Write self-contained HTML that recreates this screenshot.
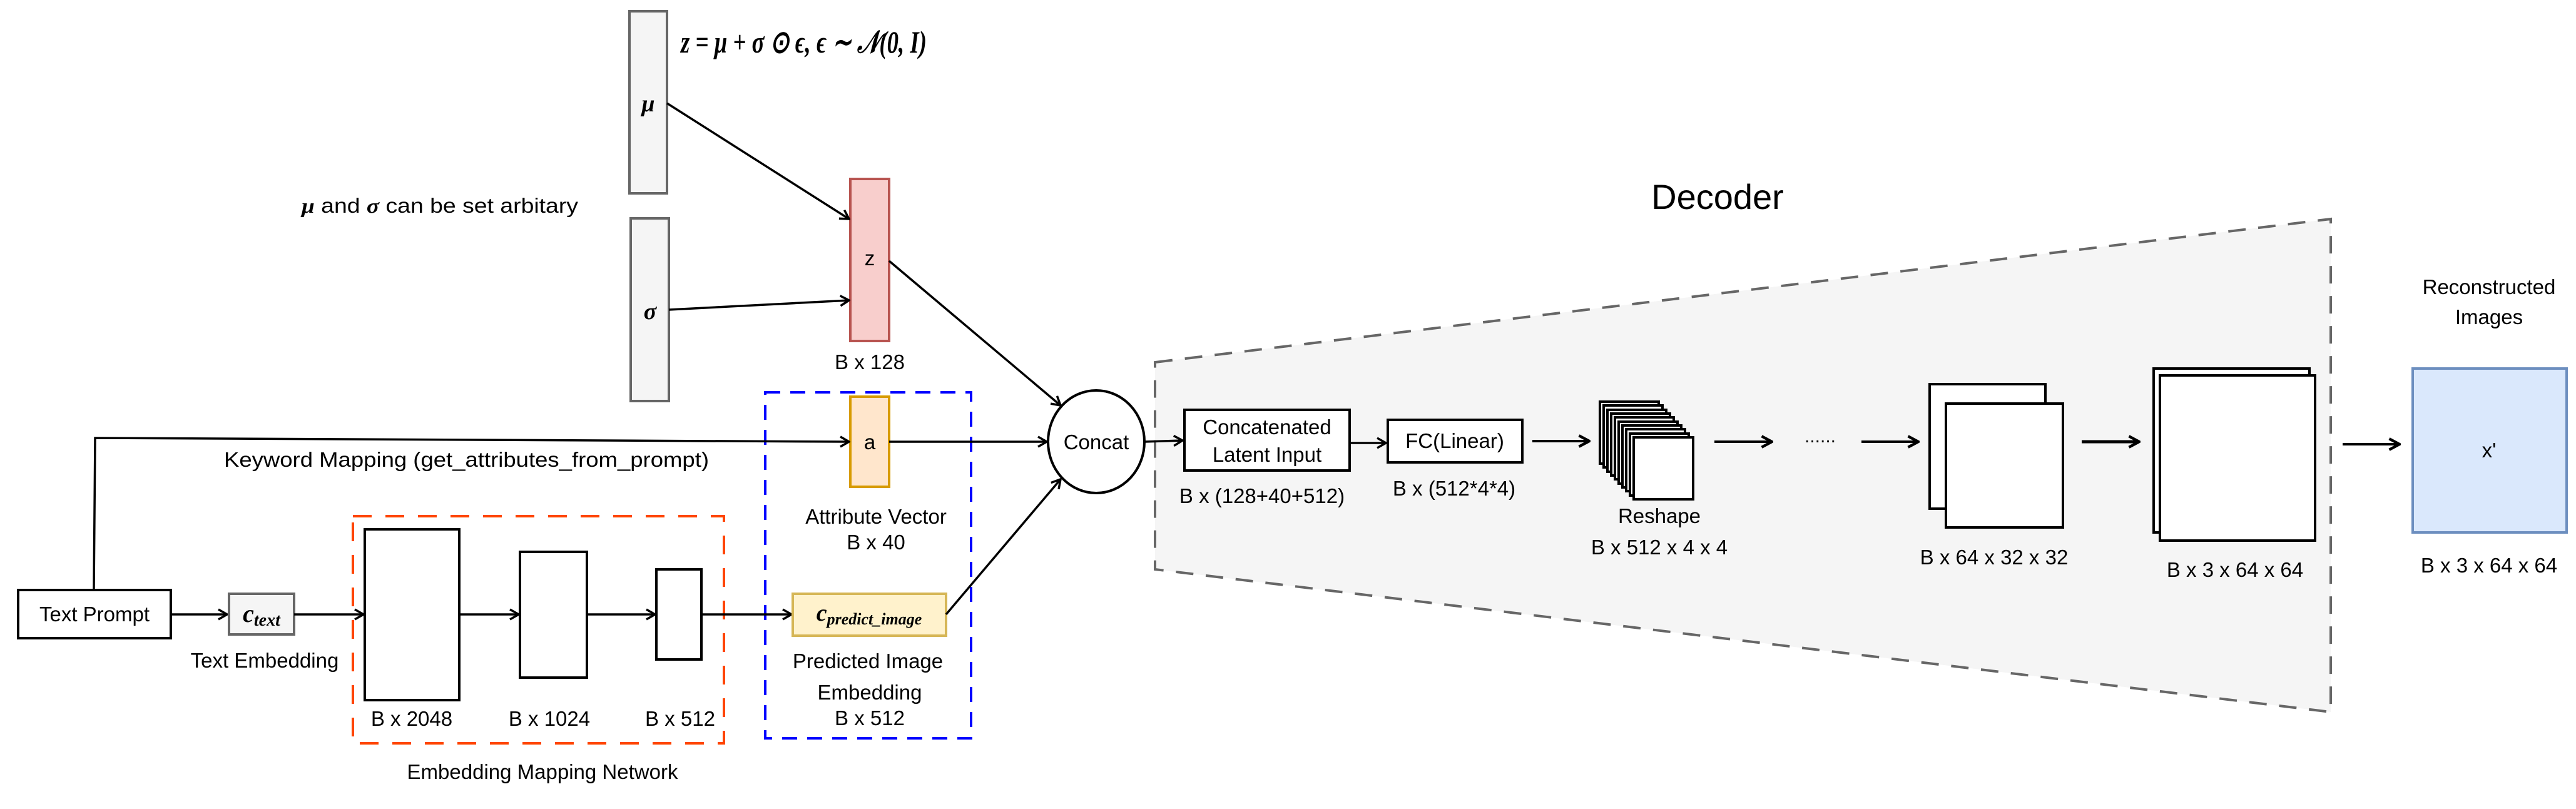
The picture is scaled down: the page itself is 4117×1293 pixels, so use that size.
<!DOCTYPE html>
<html><head><meta charset="utf-8"><style>
html,body{margin:0;padding:0;background:#fff}
svg{display:block}
text{font-family:"Liberation Sans",Arial,sans-serif;font-size:33px;fill:#000}
.m{font-family:"Liberation Serif",serif;font-style:italic}
</style></head><body>
<svg width="4117" height="1293" viewBox="0 0 4117 1293" xmlns="http://www.w3.org/2000/svg">
<defs>
<marker id="a" viewBox="0 0 20 20" refX="18" refY="10" markerWidth="20" markerHeight="20" markerUnits="userSpaceOnUse" orient="auto">
<polyline points="4,2 18,10 4,18" fill="none" stroke="#000" stroke-width="3.5"/>
</marker>
<marker id="b" viewBox="0 0 20 20" refX="18" refY="10" markerWidth="22" markerHeight="22" markerUnits="userSpaceOnUse" orient="auto">
<polyline points="3,2 18,10 3,18" fill="none" stroke="#000" stroke-width="4"/>
</marker>
</defs>

<polygon points="1846,579 3725,350 3725,1138 1846,910" fill="#f5f5f5" stroke="#666" stroke-width="4" stroke-dasharray="28,20"/>
<text x="2745" y="334" text-anchor="middle" style="font-size:56px">Decoder</text>

<rect x="1006" y="18" width="60" height="291" fill="#f5f5f5" stroke="#666" stroke-width="4"/>
<rect x="1008" y="349" width="61" height="292" fill="#f5f5f5" stroke="#666" stroke-width="4"/>
<text x="1036" y="178" text-anchor="middle" class="m" style="font-size:38px;font-weight:bold">μ</text>
<text x="1039" y="510" text-anchor="middle" class="m" style="font-size:38px;font-weight:bold">σ</text>
<text x="1088" y="84" class="m" style="font-size:50px;font-weight:bold" textLength="393" lengthAdjust="spacingAndGlyphs">z = μ + σ ⊙ ϵ,  ϵ ∼ 𝒩(0, I)</text>
<text x="482" y="340" textLength="442" lengthAdjust="spacingAndGlyphs"><tspan class="m" style="font-weight:bold">μ</tspan> and <tspan class="m" style="font-weight:bold">σ</tspan> can be set arbitary</text>

<rect x="1359" y="286" width="62" height="259" fill="#f8cecc" stroke="#b85450" stroke-width="4"/>
<text x="1390" y="424" text-anchor="middle">z</text>
<text x="1390" y="590" text-anchor="middle">B x 128</text>
<line x1="1066" y1="165" x2="1357" y2="350" stroke="#000" stroke-width="3.5" marker-end="url(#a)"/>
<line x1="1069" y1="495" x2="1357" y2="480" stroke="#000" stroke-width="3.5" marker-end="url(#a)"/>
<line x1="1421" y1="417" x2="1695" y2="648" stroke="#000" stroke-width="3.5" marker-end="url(#a)"/>

<rect x="1223" y="627" width="329" height="553" fill="none" stroke="#0000ff" stroke-width="4" stroke-dasharray="24,16"/>
<rect x="1359" y="634" width="62" height="144" fill="#ffe6cc" stroke="#d79b00" stroke-width="4"/>
<text x="1390" y="718" text-anchor="middle">a</text>
<text x="1400" y="837" text-anchor="middle">Attribute Vector</text>
<text x="1400" y="878" text-anchor="middle">B x 40</text>
<polyline points="150,943 152,700 1357,706" fill="none" stroke="#000" stroke-width="3.5" marker-end="url(#a)"/>
<text x="358" y="746" textLength="775" lengthAdjust="spacingAndGlyphs">Keyword Mapping (get_attributes_from_prompt)</text>
<line x1="1421" y1="706" x2="1673" y2="706" stroke="#000" stroke-width="3.5" marker-end="url(#a)"/>

<rect x="29" y="943" width="244" height="77" fill="#fff" stroke="#000" stroke-width="4"/>
<text x="151" y="993" text-anchor="middle">Text Prompt</text>
<line x1="273" y1="982" x2="363" y2="982" stroke="#000" stroke-width="3.5" marker-end="url(#a)"/>
<rect x="366" y="949" width="104" height="65" fill="#f5f5f5" stroke="#666" stroke-width="4"/>
<text x="418" y="994" text-anchor="middle" class="m" style="font-size:40px;font-weight:bold">c<tspan style="font-size:28px" dy="6">text</tspan></text>
<text x="423" y="1067" text-anchor="middle">Text Embedding</text>
<line x1="470" y1="982" x2="581" y2="982" stroke="#000" stroke-width="3.5" marker-end="url(#a)"/>

<rect x="564" y="825" width="593" height="363" fill="none" stroke="#ff4500" stroke-width="4" stroke-dasharray="30,22"/>
<rect x="583" y="846" width="151" height="273" fill="#fff" stroke="#000" stroke-width="4"/>
<rect x="831" y="882" width="107" height="201" fill="#fff" stroke="#000" stroke-width="4"/>
<rect x="1049" y="910" width="72" height="144" fill="#fff" stroke="#000" stroke-width="4"/>
<line x1="734" y1="982" x2="829" y2="982" stroke="#000" stroke-width="3.5" marker-end="url(#a)"/>
<line x1="938" y1="982" x2="1047" y2="982" stroke="#000" stroke-width="3.5" marker-end="url(#a)"/>
<line x1="1121" y1="982" x2="1265" y2="982" stroke="#000" stroke-width="3.5" marker-end="url(#a)"/>
<text x="658" y="1160" text-anchor="middle">B x 2048</text>
<text x="878" y="1160" text-anchor="middle">B x 1024</text>
<text x="1087" y="1160" text-anchor="middle">B x 512</text>
<text x="867" y="1245" text-anchor="middle">Embedding Mapping Network</text>

<rect x="1267" y="949" width="245" height="67" fill="#fff2cc" stroke="#d6b656" stroke-width="4"/>
<text x="1389" y="992" text-anchor="middle" class="m" style="font-size:38px;font-weight:bold">c<tspan style="font-size:26px" dy="6">predict_image</tspan></text>
<text x="1387" y="1068" text-anchor="middle">Predicted Image</text>
<text x="1390" y="1118" text-anchor="middle">Embedding</text>
<text x="1390" y="1159" text-anchor="middle">B x 512</text>
<line x1="1512" y1="982" x2="1695" y2="766" stroke="#000" stroke-width="3.5" marker-end="url(#a)"/>

<ellipse cx="1752" cy="706" rx="77" ry="82" fill="#fff" stroke="#000" stroke-width="4"/>
<text x="1752" y="718" text-anchor="middle">Concat</text>
<line x1="1829" y1="706" x2="1890" y2="704" stroke="#000" stroke-width="3.5" marker-end="url(#a)"/>

<rect x="1893" y="655" width="264" height="97" fill="#fff" stroke="#000" stroke-width="4"/>
<text x="2025" y="694" text-anchor="middle">Concatenated</text>
<text x="2025" y="738" text-anchor="middle">Latent Input</text>
<text x="2017" y="804" text-anchor="middle">B x (128+40+512)</text>
<line x1="2157" y1="708" x2="2215" y2="708" stroke="#000" stroke-width="3.5" marker-end="url(#a)"/>
<rect x="2218" y="671" width="215" height="68" fill="#fff" stroke="#000" stroke-width="4"/>
<text x="2325" y="716" text-anchor="middle">FC(Linear)</text>
<text x="2324" y="792" text-anchor="middle">B x (512*4*4)</text>
<line x1="2449" y1="705" x2="2540" y2="705" stroke="#000" stroke-width="4" marker-end="url(#b)"/>

<g fill="#fff" stroke="#000" stroke-width="4">
<rect x="2557" y="642" width="94" height="99"/>
<rect x="2563" y="648" width="94" height="99"/>
<rect x="2569" y="655" width="94" height="99"/>
<rect x="2575" y="661" width="94" height="99"/>
<rect x="2581" y="667" width="94" height="99"/>
<rect x="2587" y="674" width="94" height="99"/>
<rect x="2593" y="680" width="94" height="99"/>
<rect x="2599" y="686" width="94" height="99"/>
<rect x="2605" y="693" width="94" height="99"/>
<rect x="2611" y="699" width="95" height="99"/>
</g>
<text x="2652" y="836" text-anchor="middle">Reshape</text>
<text x="2652" y="886" text-anchor="middle">B x 512 x 4 x 4</text>
<line x1="2740" y1="706" x2="2832" y2="706" stroke="#000" stroke-width="4" marker-end="url(#b)"/>
<text x="2909" y="707" text-anchor="middle" style="font-size:30px">......</text>
<line x1="2975" y1="706" x2="3066" y2="706" stroke="#000" stroke-width="4" marker-end="url(#b)"/>

<g fill="#fff" stroke="#000" stroke-width="4">
<rect x="3084" y="614" width="185" height="199"/>
<rect x="3110" y="645" width="187" height="198"/>
</g>
<text x="3187" y="902" text-anchor="middle">B x 64 x 32 x 32</text>
<line x1="3327" y1="706" x2="3419" y2="706" stroke="#000" stroke-width="5" marker-end="url(#b)"/>
<g fill="#fff" stroke="#000" stroke-width="4">
<rect x="3442" y="589" width="249" height="262"/>
<rect x="3452" y="600" width="248" height="264"/>
</g>
<text x="3572" y="922" text-anchor="middle">B x 3 x 64 x 64</text>
<line x1="3744" y1="710" x2="3835" y2="710" stroke="#000" stroke-width="4" marker-end="url(#b)"/>

<rect x="3856" y="589" width="246" height="262" fill="#dae8fc" stroke="#6c8ebf" stroke-width="4"/>
<text x="3978" y="731" text-anchor="middle">x'</text>
<text x="3978" y="470" text-anchor="middle">Reconstructed</text>
<text x="3978" y="518" text-anchor="middle">Images</text>
<text x="3978" y="915" text-anchor="middle">B x 3 x 64 x 64</text>
</svg>
</body></html>
